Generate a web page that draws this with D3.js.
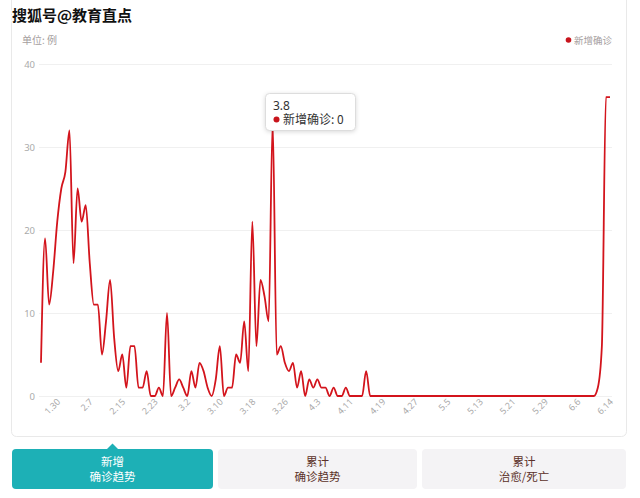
<!DOCTYPE html>
<html><head><meta charset="utf-8">
<script src="https://cdn.jsdelivr.net/npm/d3@7"></script>
<style>
body{margin:0;background:#fff;}
svg{display:block;font-family:"Noto Sans CJK SC","Noto Sans",sans-serif;}
</style>
</head><body>
<svg id="c" width="640" height="498"></svg>
<script>
const dates = [
"1.26","1.27","1.28","1.29","1.30","1.31",
"2.1","2.2","2.3","2.4","2.5","2.6","2.7","2.8","2.9","2.10","2.11","2.12","2.13","2.14","2.15","2.16","2.17","2.18","2.19","2.20","2.21","2.22","2.23","2.24","2.25","2.26","2.27","2.28","2.29",
"3.1","3.2","3.3","3.4","3.5","3.6","3.7","3.8","3.9","3.10","3.11","3.12","3.13","3.14","3.15","3.16","3.17","3.18","3.19","3.20","3.21","3.22","3.23","3.24","3.25","3.26","3.27","3.28","3.29","3.30","3.31",
"4.1","4.2","4.3","4.4","4.5","4.6","4.7","4.8","4.9","4.10","4.11","4.12","4.13","4.14","4.15","4.16","4.17","4.18","4.19","4.20","4.21","4.22","4.23","4.24","4.25","4.26","4.27","4.28","4.29","4.30",
"5.1","5.2","5.3","5.4","5.5","5.6","5.7","5.8","5.9","5.10","5.11","5.12","5.13","5.14","5.15","5.16","5.17","5.18","5.19","5.20","5.21","5.22","5.23","5.24","5.25","5.26","5.27","5.28","5.29","5.30","5.31",
"6.1","6.2","6.3","6.4","6.5","6.6","6.7","6.8","6.9","6.10","6.11","6.12","6.13","6.14"
];
const newConfirmed = [
4,19,11,15,21,25,27,32,16,25,21,23,16,11,11,5,9,14,7,3,
5,1,6,6,1,1,3,0,0,1,0,10,0,1,2,1,0,3,1,4,
3,1,0,2,6,0,1,1,5,4,9,3,21,6,14,12,9,33,5,6,
4,3,4,1,3,0,2,1,2,1,1,0,1,0,0,1,0,0,0,0,
3,0,0,0,0,0,0,0,0,0,0,0,0,0,0,0,0,0,0,0,
0,0,0,0,0,0,0,0,0,0,0,0,0,0,0,0,0,0,0,0,
0,0,0,0,0,0,0,0,0,0,0,0,0,0,0,0,0,1,6,36,
36
];
const xTickLabels = ["1.30","2.7","2.15","2.23","3.2","3.10","3.18","3.26","4.3","4.11","4.19","4.27","5.5","5.13","5.21","5.29","6.6","6.14"];
const yTicks = [0,10,20,30,40];
const seriesName = "新增确诊";
const unitLabel = "单位: 例";
const tooltipDate = "3.8";
const tabs = [["新增","确诊趋势"],["累计","确诊趋势"],["累计","治愈/死亡"]];
const watermark = "搜狐号@教育直点";

const svg = d3.select("#c");
const red = "#d3141c";

// card
svg.append("rect").attr("x",11.5).attr("y",-10).attr("width",615).attr("height",446.5)
  .attr("rx",5).attr("fill","#fff").attr("stroke","#e9e9e9");

const x = d3.scalePoint().domain(dates).range([41, 610]);
const y = d3.scaleLinear().domain([0,40]).range([396, 64]);

// grid
svg.append("g").attr("transform","translate(39,0)")
  .call(d3.axisLeft(y).tickValues(yTicks).tickSize(-573).tickFormat(""))
  .call(g=>g.select(".domain").remove())
  .call(g=>g.selectAll("line").attr("stroke","#f0f0f0"));

// y labels
svg.append("g").attr("transform","translate(35,0)")
  .call(d3.axisLeft(y).tickValues(yTicks).tickSize(0).tickPadding(0))
  .call(g=>g.select(".domain").remove())
  .call(g=>g.selectAll("text").attr("fill","#aaa").attr("font-size",9.5).attr("font-family","'Noto Sans',sans-serif"));

// x labels
svg.append("g").attr("transform","translate(0,398)")
  .call(d3.axisBottom(x).tickValues(xTickLabels).tickSize(0).tickPadding(0))
  .call(g=>g.select(".domain").remove())
  .call(g=>g.selectAll("text").attr("fill","#aaa").attr("font-size",9)
     .attr("font-family","'Noto Sans',sans-serif")
     .attr("text-anchor","end").attr("dy","0.6em").attr("dx","-0.1em")
     .attr("transform","rotate(-45)"));

// line
const line = d3.line().x((d,i)=>x(dates[i])).y(d=>y(d)).curve(d3.curveMonotoneX);
svg.append("path").datum(newConfirmed).attr("d",line)
  .attr("fill","none").attr("stroke",red).attr("stroke-width",1.8).attr("stroke-linejoin","round");

// unit label
svg.append("text").attr("x",22).attr("y",44).attr("font-size",10).attr("fill","#a59e9e").text(unitLabel);

// legend
svg.append("circle").attr("cx",568.5).attr("cy",40).attr("r",2.8).attr("fill","#c8141c");
svg.append("text").attr("x",574).attr("y",44).attr("font-size",9.5).attr("fill","#a59e9e").text(seriesName);

// tooltip
const tt = svg.append("g");
tt.append("rect").attr("x",265.5).attr("y",93.5).attr("width",90).attr("height",37).attr("rx",4)
  .attr("fill","#fff").attr("stroke","#ddd").style("filter","drop-shadow(0 1px 2px rgba(0,0,0,0.15))");
tt.append("text").attr("x",273).attr("y",110).attr("font-size",12).attr("fill","#333").attr("font-family","'Noto Sans',sans-serif").text(tooltipDate);
tt.append("circle").attr("cx",276.5).attr("cy",119.5).attr("r",3).attr("fill","#c8141c");
tt.append("text").attr("x",283).attr("y",124).attr("font-size",12).attr("fill","#333").text(seriesName + ": " + newConfirmed[dates.indexOf(tooltipDate)]);

// tabs
const tabX = [12, 218, 422], tabW = [201, 199, 204];
tabs.forEach((t,i)=>{
  const g = svg.append("g");
  g.append("rect").attr("x",tabX[i]).attr("y",449).attr("width",tabW[i]).attr("height",40).attr("rx",4)
    .attr("fill", i===0 ? "#1db0b6" : "#f4f3f5");
  const cx = tabX[i] + tabW[i]/2;
  const col = i===0 ? "#fff" : "#5b3128";
  g.append("text").attr("x",cx).attr("y",466).attr("text-anchor","middle").attr("font-size",11.5).attr("fill",col).text(t[0]);
  g.append("text").attr("x",cx).attr("y",481).attr("text-anchor","middle").attr("font-size",11.5).attr("fill",col).text(t[1]);
});
svg.append("path").attr("d","M107,449 L112.5,443.5 L118,449 Z").attr("fill","#1db0b6");

// watermark
svg.append("text").attr("x",12).attr("y",21).attr("font-size",15).attr("font-weight","bold")
  .attr("fill","#111").attr("stroke","#fff").attr("stroke-width",2.5).attr("paint-order","stroke").text(watermark);
</script>
</body></html>
